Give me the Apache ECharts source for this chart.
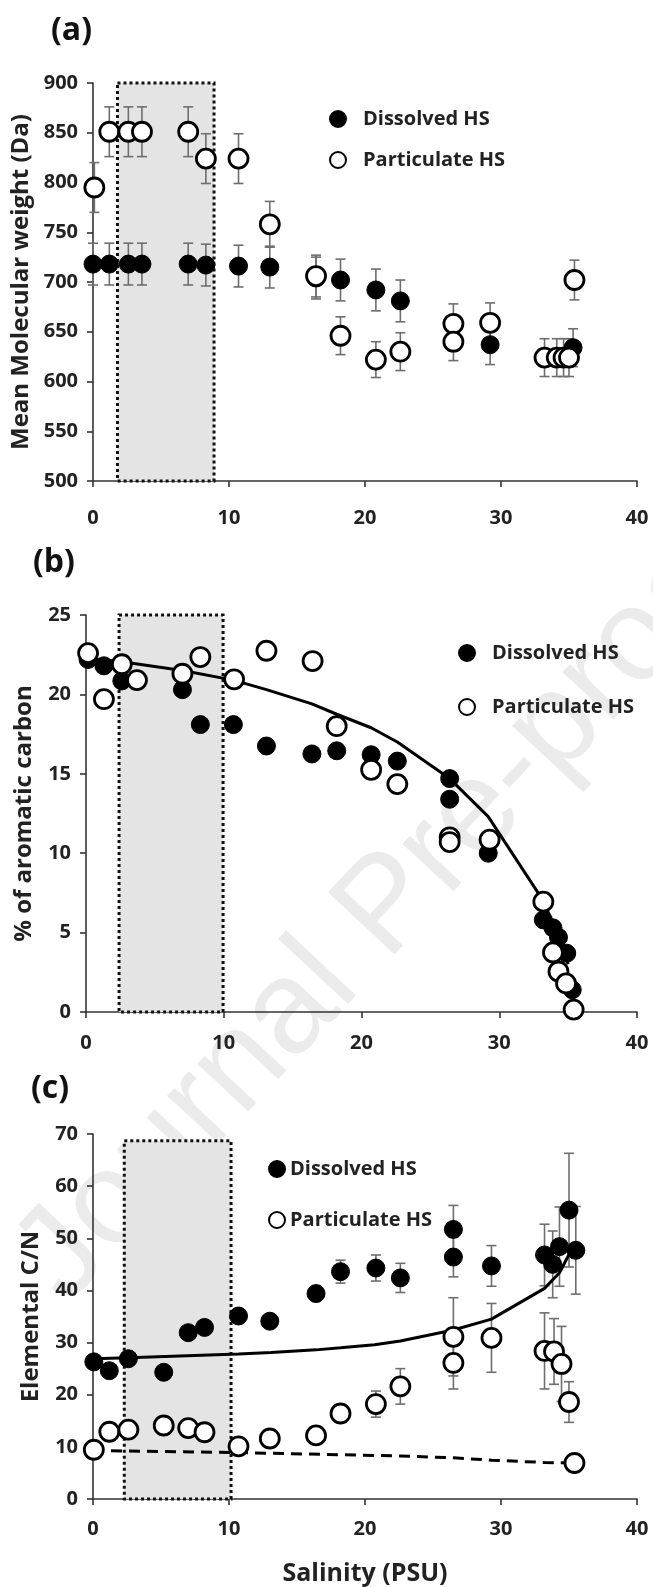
<!DOCTYPE html>
<html>
<head>
<meta charset="utf-8">
<script src="https://cdn.jsdelivr.net/npm/echarts@6/dist/echarts.min.js"></script>
<style>
  html, body { margin: 0; padding: 0; background: #fff; }
  #chart { width: 653px; height: 1587px; }
</style>
</head>
<body>
<div id="chart"></div>
<script>
"use strict";

// ---- panel (a): mean molecular weight ----
var aSalD = [0, 1.2, 2.6, 3.6, 7.0, 8.3, 10.7, 13.0, 16.4, 18.2, 20.8, 22.6, 29.2, 35.3];
var aMwD = [718, 718, 718, 718, 718, 717, 716, 715, 704, 702, 692, 681, 637, 634];
var aErrD = [21, 21, 21, 21, 21, 21, 21, 21, 21, 21, 21, 21, 20, 19];
var aSalP = [0.1, 1.2, 2.6, 3.6, 7.0, 8.3, 10.7, 13.0, 16.4, 18.2, 20.8, 22.6, 26.5, 26.5, 29.2, 33.2, 34.1, 34.6, 35.0, 35.4];
var aMwP = [795, 851, 851, 851, 851, 824, 824, 758, 706, 646, 622, 630, 658, 640, 659, 624, 624, 624, 624, 702];
var aErrP = [25, 25, 25, 25, 25, 25, 25, 23, 21, 19, 18, 19, 20, 19, 20, 19, 19, 19, 19, 20];
var aBox = [1.8, 500, 8.9, 900];

// ---- panel (b): % aromatic carbon ----
var bSalD = [0.15, 1.3, 2.6, 7.0, 8.3, 10.7, 13.1, 16.4, 18.2, 20.7, 22.6, 26.4, 26.4, 29.2, 33.2, 33.9, 34.3, 34.9, 35.3];
var bArD = [22.2, 21.8, 20.85, 20.3, 18.1, 18.1, 16.75, 16.25, 16.45, 16.2, 15.8, 14.7, 13.4, 10.0, 5.8, 5.3, 4.7, 3.7, 1.4];
var bSalP = [0.15, 1.3, 2.6, 3.7, 7.0, 8.3, 10.75, 13.1, 16.45, 18.2, 20.7, 22.6, 26.4, 26.4, 29.3, 33.2, 33.9, 34.3, 34.85, 35.4];
var bArP = [22.6, 19.7, 21.9, 20.9, 21.3, 22.35, 20.95, 22.75, 22.1, 18.0, 15.25, 14.35, 11.0, 10.7, 10.85, 6.95, 3.75, 2.55, 1.8, 0.15];
var bCurveSal = [0, 2.6, 7.0, 10.7, 13.1, 16.4, 18.2, 20.7, 22.6, 26.4, 29.2, 33.2, 34.3, 35.0];
var bCurveVal = [22.3, 22.05, 21.5, 20.9, 20.3, 19.4, 18.75, 17.9, 17.0, 14.7, 12.3, 7.0, 4.7, 3.0];
var bBox = [2.4, 0, 9.95, 25];

// ---- panel (c): elemental C/N ----
var cSalD = [0.06, 1.2, 2.6, 5.2, 7.0, 8.2, 10.7, 13.0, 16.4, 18.2, 20.8, 22.6, 26.5, 26.5, 29.3, 33.2, 33.8, 34.3, 35.0, 35.5];
var cCnD = [26.3, 24.6, 26.9, 24.3, 31.9, 32.9, 35.1, 34.1, 39.4, 43.6, 44.3, 42.4, 51.7, 46.4, 44.7, 46.8, 45.0, 48.4, 55.4, 47.7];
var cErrD = [1, 1, 1, 1, 1, 1, 1, 1, 1.4, 2.2, 2.5, 2.8, 4.6, 3.8, 3.9, 5.9, 6.4, 7.6, 10.9, 8.4];
var cSalP = [0.06, 1.2, 2.6, 5.2, 7.0, 8.2, 10.7, 13.0, 16.4, 18.2, 20.8, 22.6, 26.5, 26.5, 29.3, 33.2, 33.9, 34.45, 35.0, 35.4];
var cCnP = [9.45, 12.9, 13.3, 14.1, 13.6, 12.8, 10.1, 11.6, 12.2, 16.4, 18.2, 21.6, 31.1, 26.1, 30.9, 28.4, 28.3, 25.9, 18.6, 6.9];
var cErrP = [0.5, 0.5, 0.5, 0.5, 0.5, 0.5, 0.5, 0.5, 1, 1.5, 2.5, 3.4, 7.5, 5, 6.6, 7.3, 6.3, 7.2, 3.9, 0.5];
var cCurveSal = [0, 2.6, 10.7, 13.1, 16.4, 18.2, 20.7, 22.6, 26.5, 29.3, 33.2, 34.3, 35.0];
var cCurveVal = [26.9, 27.1, 27.8, 28.1, 28.6, 29.0, 29.6, 30.3, 32.4, 34.5, 40.4, 43.4, 46.9];
var cDashSal = [0, 10.7, 22.6, 26.5, 29.3, 33.2, 35.4];
var cDashVal = [9.3, 8.9, 8.25, 7.9, 7.45, 7.0, 6.9];
var cBox = [2.3, 0, 10.15, 68.7];

var FONT = '"Open Sans", "Liberation Sans", sans-serif';
var myChart = echarts.init(document.getElementById('chart'));

function zip(xs, ys, errs) {
	var out = [];
	for (var i = 0; i < xs.length; i++) {
		out.push(errs ? [xs[i], ys[i], errs[i]] : [xs[i], ys[i]]);
	}
	return out;
}

function renderErr(params, api) {
	var x = api.value(0), y = api.value(1), e = api.value(2);
	var hi = api.coord([x, y + e]);
	var lo = api.coord([x, y - e]);
	var w = 5;
	var st = { stroke: '#6e6e6e', lineWidth: 1.6 };
	return {
		type: 'group',
		children: [
			{ type: 'line', shape: { x1: hi[0], y1: hi[1], x2: lo[0], y2: lo[1] }, style: st },
			{ type: 'line', shape: { x1: hi[0] - w, y1: hi[1], x2: hi[0] + w, y2: hi[1] }, style: st },
			{ type: 'line', shape: { x1: lo[0] - w, y1: lo[1], x2: lo[0] + w, y2: lo[1] }, style: st }
		]
	};
}

function renderBox(params, api) {
	var p0 = api.coord([api.value(0), api.value(3)]);
	var p1 = api.coord([api.value(2), api.value(1)]);
	return {
		type: 'rect',
		shape: { x: p0[0], y: p0[1], width: p1[0] - p0[0], height: p1[1] - p0[1] },
		style: { fill: '#e4e4e4', stroke: '#111', lineWidth: 3, lineDash: [3, 3] }
	};
}

function xAxisFor(idx, margin, withName) {
	var ax = {
		gridIndex: idx, type: 'value', min: 0, max: 40, interval: 10,
		axisLine: { lineStyle: { color: '#333', width: 1.6 } },
		axisTick: { show: true, length: 6, lineStyle: { color: '#333', width: 1.6 } },
		axisLabel: { fontFamily: FONT, fontWeight: 'bold', fontSize: 20, color: '#222', margin: margin },
		splitLine: { show: false }
	};
	if (withName) {
		ax.name = 'Salinity (PSU)';
		ax.nameLocation = 'middle';
		ax.nameGap = 62;
		ax.nameTextStyle = { fontFamily: FONT, fontWeight: 'bold', fontSize: 25, color: '#222' };
	}
	return ax;
}

function yAxisFor(idx, min, max, step, name, gap) {
	return {
		gridIndex: idx, type: 'value', min: min, max: max, interval: step,
		name: name, nameLocation: 'middle', nameGap: gap,
		nameTextStyle: { fontFamily: FONT, fontWeight: 'bold', fontSize: 24, color: '#222' },
		axisLine: { show: true, lineStyle: { color: '#333', width: 1.6 } },
		axisTick: { show: true, length: 6, lineStyle: { color: '#333', width: 1.6 } },
		axisLabel: { fontFamily: FONT, fontWeight: 'bold', fontSize: 20, color: '#222', margin: 15 },
		splitLine: { show: false }
	};
}

function panelSeries(idx, box, dIn, pIn, dErr, pErr) {
	var list = [{
		type: 'custom', xAxisIndex: idx, yAxisIndex: idx, silent: true, z: 1,
		renderItem: renderBox, encode: { x: [0, 2], y: [1, 3] }, data: [box]
	}];
	if (dErr) {
		list.push({
			type: 'custom', xAxisIndex: idx, yAxisIndex: idx, silent: true, z: 2,
			renderItem: renderErr, encode: { x: 0, y: 1 }, data: dErr
		});
	}
	if (pErr) {
		list.push({
			type: 'custom', xAxisIndex: idx, yAxisIndex: idx, silent: true, z: 2,
			renderItem: renderErr, encode: { x: 0, y: 1 }, data: pErr
		});
	}
	list.push({
		name: 'Dissolved HS', type: 'scatter', xAxisIndex: idx, yAxisIndex: idx, z: 4,
		symbolSize: 18, itemStyle: { color: '#000', borderColor: '#000', borderWidth: 1, opacity: 1 },
		data: dIn
	});
	list.push({
		name: 'Particulate HS', type: 'scatter', xAxisIndex: idx, yAxisIndex: idx, z: 5,
		symbolSize: 19, itemStyle: { color: '#fff', borderColor: '#000', borderWidth: 2.8, opacity: 1 },
		data: pIn
	});
	return list;
}

function curve(idx, xs, ys, dashed) {
	return {
		type: 'line', xAxisIndex: idx, yAxisIndex: idx, z: 3, silent: true,
		showSymbol: false, symbol: 'none', smooth: false,
		lineStyle: { color: '#000', width: 3, type: dashed ? [11, 7] : 'solid' },
		data: zip(xs, ys)
	};
}

var series = []
	.concat(panelSeries(0, aBox, zip(aSalD, aMwD), zip(aSalP, aMwP), zip(aSalD, aMwD, aErrD), zip(aSalP, aMwP, aErrP)))
	.concat(panelSeries(1, bBox, zip(bSalD, bArD), zip(bSalP, bArP), null, null))
	.concat([curve(1, bCurveSal, bCurveVal, false)])
	.concat(panelSeries(2, cBox, zip(cSalD, cCnD), zip(cSalP, cCnP), zip(cSalD, cCnD, cErrD), zip(cSalP, cCnP, cErrP)))
	.concat([curve(2, cCurveSal, cCurveVal, false), curve(2, cDashSal, cDashVal, true)]);

function legendAt(left, top, gap, pad) {
	return {
		orient: 'vertical', left: left, top: top, itemGap: gap,
		itemWidth: 16, itemHeight: 16, icon: 'circle',
		selectedMode: false,
		textStyle: { fontFamily: FONT, fontWeight: 'bold', fontSize: 20, color: '#222', padding: [0, 0, 0, pad] },
		data: ['Dissolved HS', 'Particulate HS']
	};
}

var panelTitle = function(text, left, top) {
	return { text: text, left: left, top: top, textStyle: { fontFamily: FONT, fontWeight: 'bold', fontSize: 32, color: '#111' } };
};

var option = {
	backgroundColor: '#fff',
	animation: false,
	title: [panelTitle('(a)', 46, 10), panelTitle('(b)', 28, 542), panelTitle('(c)', 26, 1068)],
	legend: [legendAt(324, 104, 21, 12), legendAt(453, 638, 34, 12), legendAt(263, 1154, 31, 0)],
	graphic: [{
		type: 'text', z: -10, silent: true,
		x: 388, y: 908, rotation: 0.82,
		style: {
			text: 'Journal Pre-proof', fill: '#ebebeb',
			font: '132px "Liberation Sans", sans-serif',
			align: 'center', verticalAlign: 'middle'
		}
	}],
	grid: [
		{ left: 93, top: 83, width: 544, height: 398 },
		{ left: 86, top: 615, width: 551, height: 397 },
		{ left: 93, top: 1134, width: 544, height: 367 }
	],
	xAxis: [xAxisFor(0, 27, false), xAxisFor(1, 21, false), xAxisFor(2, 20, true)],
	yAxis: [
		yAxisFor(0, 500, 900, 50, 'Mean Molecular weight (Da)', 56),
		yAxisFor(1, 0, 25, 5, '% of aromatic carbon', 50),
		yAxisFor(2, 0, 70, 10, 'Elemental C/N', 50)
	],
	series: series
};

myChart.setOption(option);
</script>
</body>
</html>
